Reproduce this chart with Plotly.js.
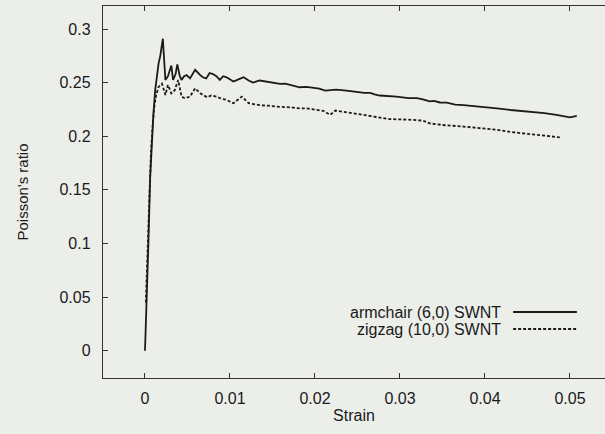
<!DOCTYPE html>
<html>
<head>
<meta charset="utf-8">
<script src="https://cdn.plot.ly/plotly-3.0.1.min.js"></script>
<style>html,body{margin:0;padding:0;background:#eceeea;}#chart{width:605px;height:434px;}</style>
</head>
<body>
<div id="chart"></div>
<script>
// Data
const seriesNames = ["armchair (6,0) SWNT", "zigzag (10,0) SWNT"];

const armchairStrain = [0,0.0002,0.0004,0.0006,0.0008,0.001,0.0012,0.0014,0.0016,0.0018,0.0021,0.0024,0.0027,0.0031,0.0033,0.0036,0.0038,0.0041,0.0043,0.0046,0.0049,0.0053,0.0059,0.0065,0.0068,0.0072,0.0076,0.008,0.0084,0.0088,0.0092,0.0096,0.0100,0.0104,0.0110,0.0116,0.0122,0.0127,0.0135,0.0143,0.0150,0.0159,0.0165,0.0174,0.0182,0.019,0.0198,0.0205,0.0212,0.0218,0.0225,0.0237,0.025,0.0258,0.0265,0.027,0.0276,0.0286,0.0296,0.031,0.032,0.0327,0.0335,0.034,0.0347,0.0355,0.0365,0.0375,0.039,0.0414,0.043,0.0453,0.047,0.0484,0.050,0.0508];
const armchairRatio = [0,0.045,0.10,0.16,0.195,0.222,0.243,0.256,0.268,0.275,0.291,0.2525,0.256,0.266,0.2525,0.258,0.267,0.256,0.2525,0.256,0.257,0.254,0.262,0.257,0.255,0.254,0.259,0.258,0.256,0.2525,0.256,0.255,0.253,0.251,0.253,0.255,0.252,0.250,0.252,0.251,0.2495,0.2488,0.249,0.247,0.2457,0.246,0.245,0.2445,0.2425,0.243,0.2435,0.2425,0.241,0.2405,0.2405,0.239,0.238,0.2375,0.237,0.2355,0.2355,0.2345,0.2325,0.233,0.2315,0.2314,0.2295,0.229,0.228,0.226,0.2245,0.223,0.2215,0.220,0.2177,0.219];

const zigzagStrain = [0.0001,0.0003,0.0005,0.0007,0.0009,0.0011,0.0013,0.0016,0.0020,0.0022,0.0024,0.0027,0.0031,0.0035,0.0039,0.0043,0.0047,0.0053,0.0059,0.0065,0.0073,0.0078,0.0084,0.009,0.0096,0.0104,0.0114,0.0122,0.0128,0.0135,0.0145,0.0155,0.0171,0.0182,0.019,0.020,0.021,0.0218,0.0224,0.024,0.0257,0.027,0.0288,0.031,0.0327,0.0335,0.035,0.0375,0.0395,0.0414,0.043,0.0453,0.047,0.0488];
const zigzagRatio = [0.045,0.095,0.145,0.185,0.21,0.228,0.238,0.246,0.249,0.243,0.2385,0.2478,0.240,0.243,0.2525,0.237,0.2354,0.237,0.2447,0.240,0.2364,0.238,0.237,0.235,0.2339,0.2308,0.237,0.2308,0.2300,0.229,0.2285,0.2276,0.227,0.226,0.226,0.2245,0.2236,0.220,0.224,0.222,0.220,0.2185,0.216,0.2155,0.2146,0.212,0.2105,0.209,0.2075,0.206,0.204,0.202,0.2005,0.199];

const xTicks = [0,0.01,0.02,0.03,0.04,0.05];
const xTickLabels = ["0","0.01","0.02","0.03","0.04","0.05"];
const yTicks = [0,0.05,0.1,0.15,0.2,0.25,0.3];
const yTickLabels = ["0","0.05","0.1","0.15","0.2","0.25","0.3"];

const lineColor = "#1a1a1a";
const dashes = ["solid", "3px,2px"];

const traces = [
  {x: armchairStrain, y: armchairRatio, name: seriesNames[0], mode: "lines",
   line: {color: lineColor, width: 1.8, dash: dashes[0]}, showlegend: false},
  {x: zigzagStrain, y: zigzagRatio, name: seriesNames[1], mode: "lines",
   line: {color: lineColor, width: 1.8, dash: dashes[1]}, showlegend: false}
];

// Gnuplot-style key: text right-aligned, sample line to its right
const keyRows = [0.1774, 0.1317];
const annotations = seriesNames.map((n, i) => ({
  xref: "paper", yref: "paper", x: 0.797, y: keyRows[i], xanchor: "right", yanchor: "middle",
  text: n, showarrow: false, font: {family: "Liberation Sans, Arial, sans-serif", size: 16, color: "#1a1a1a"}
}));
const shapes = seriesNames.map((n, i) => ({
  type: "line", xref: "paper", yref: "paper", x0: 0.817, x1: 0.944, y0: keyRows[i], y1: keyRows[i],
  line: {color: lineColor, width: 1.8, dash: dashes[i]}
}));

const font = {family: "Liberation Sans, Arial, sans-serif", size: 16, color: "#1a1a1a"};

const layout = {
  width: 605, height: 434,
  margin: {l: 103, r: 0, t: 6, b: 56, pad: 0},
  paper_bgcolor: "#eceeea", plot_bgcolor: "#eceeea",
  font: font,
  showlegend: false,
  xaxis: {
    range: [-0.00494, 0.05412], tickvals: xTicks, ticktext: xTickLabels,
    ticks: "inside", ticklen: 5, tickwidth: 1, tickcolor: "#333",
    showline: true, linecolor: "#333", linewidth: 1.2, mirror: "ticks",
    showgrid: false, zeroline: false, ticklabelstandoff: 6,
    title: {text: "Strain", font: {size: 16}, standoff: 3}
  },
  yaxis: {
    range: [-0.0255, 0.3215], tickvals: yTicks, ticktext: yTickLabels,
    ticks: "inside", ticklen: 5, tickwidth: 1, tickcolor: "#333",
    showline: true, linecolor: "#333", linewidth: 1.2, mirror: false,
    showgrid: false, zeroline: false, ticklabelstandoff: 8,
    title: {text: "Poisson's ratio", font: {size: 15}, standoff: 27}
  },
  annotations: annotations,
  shapes: shapes
};

Plotly.newPlot("chart", traces, layout, {displayModeBar: false, staticPlot: true});
</script>
</body>
</html>
